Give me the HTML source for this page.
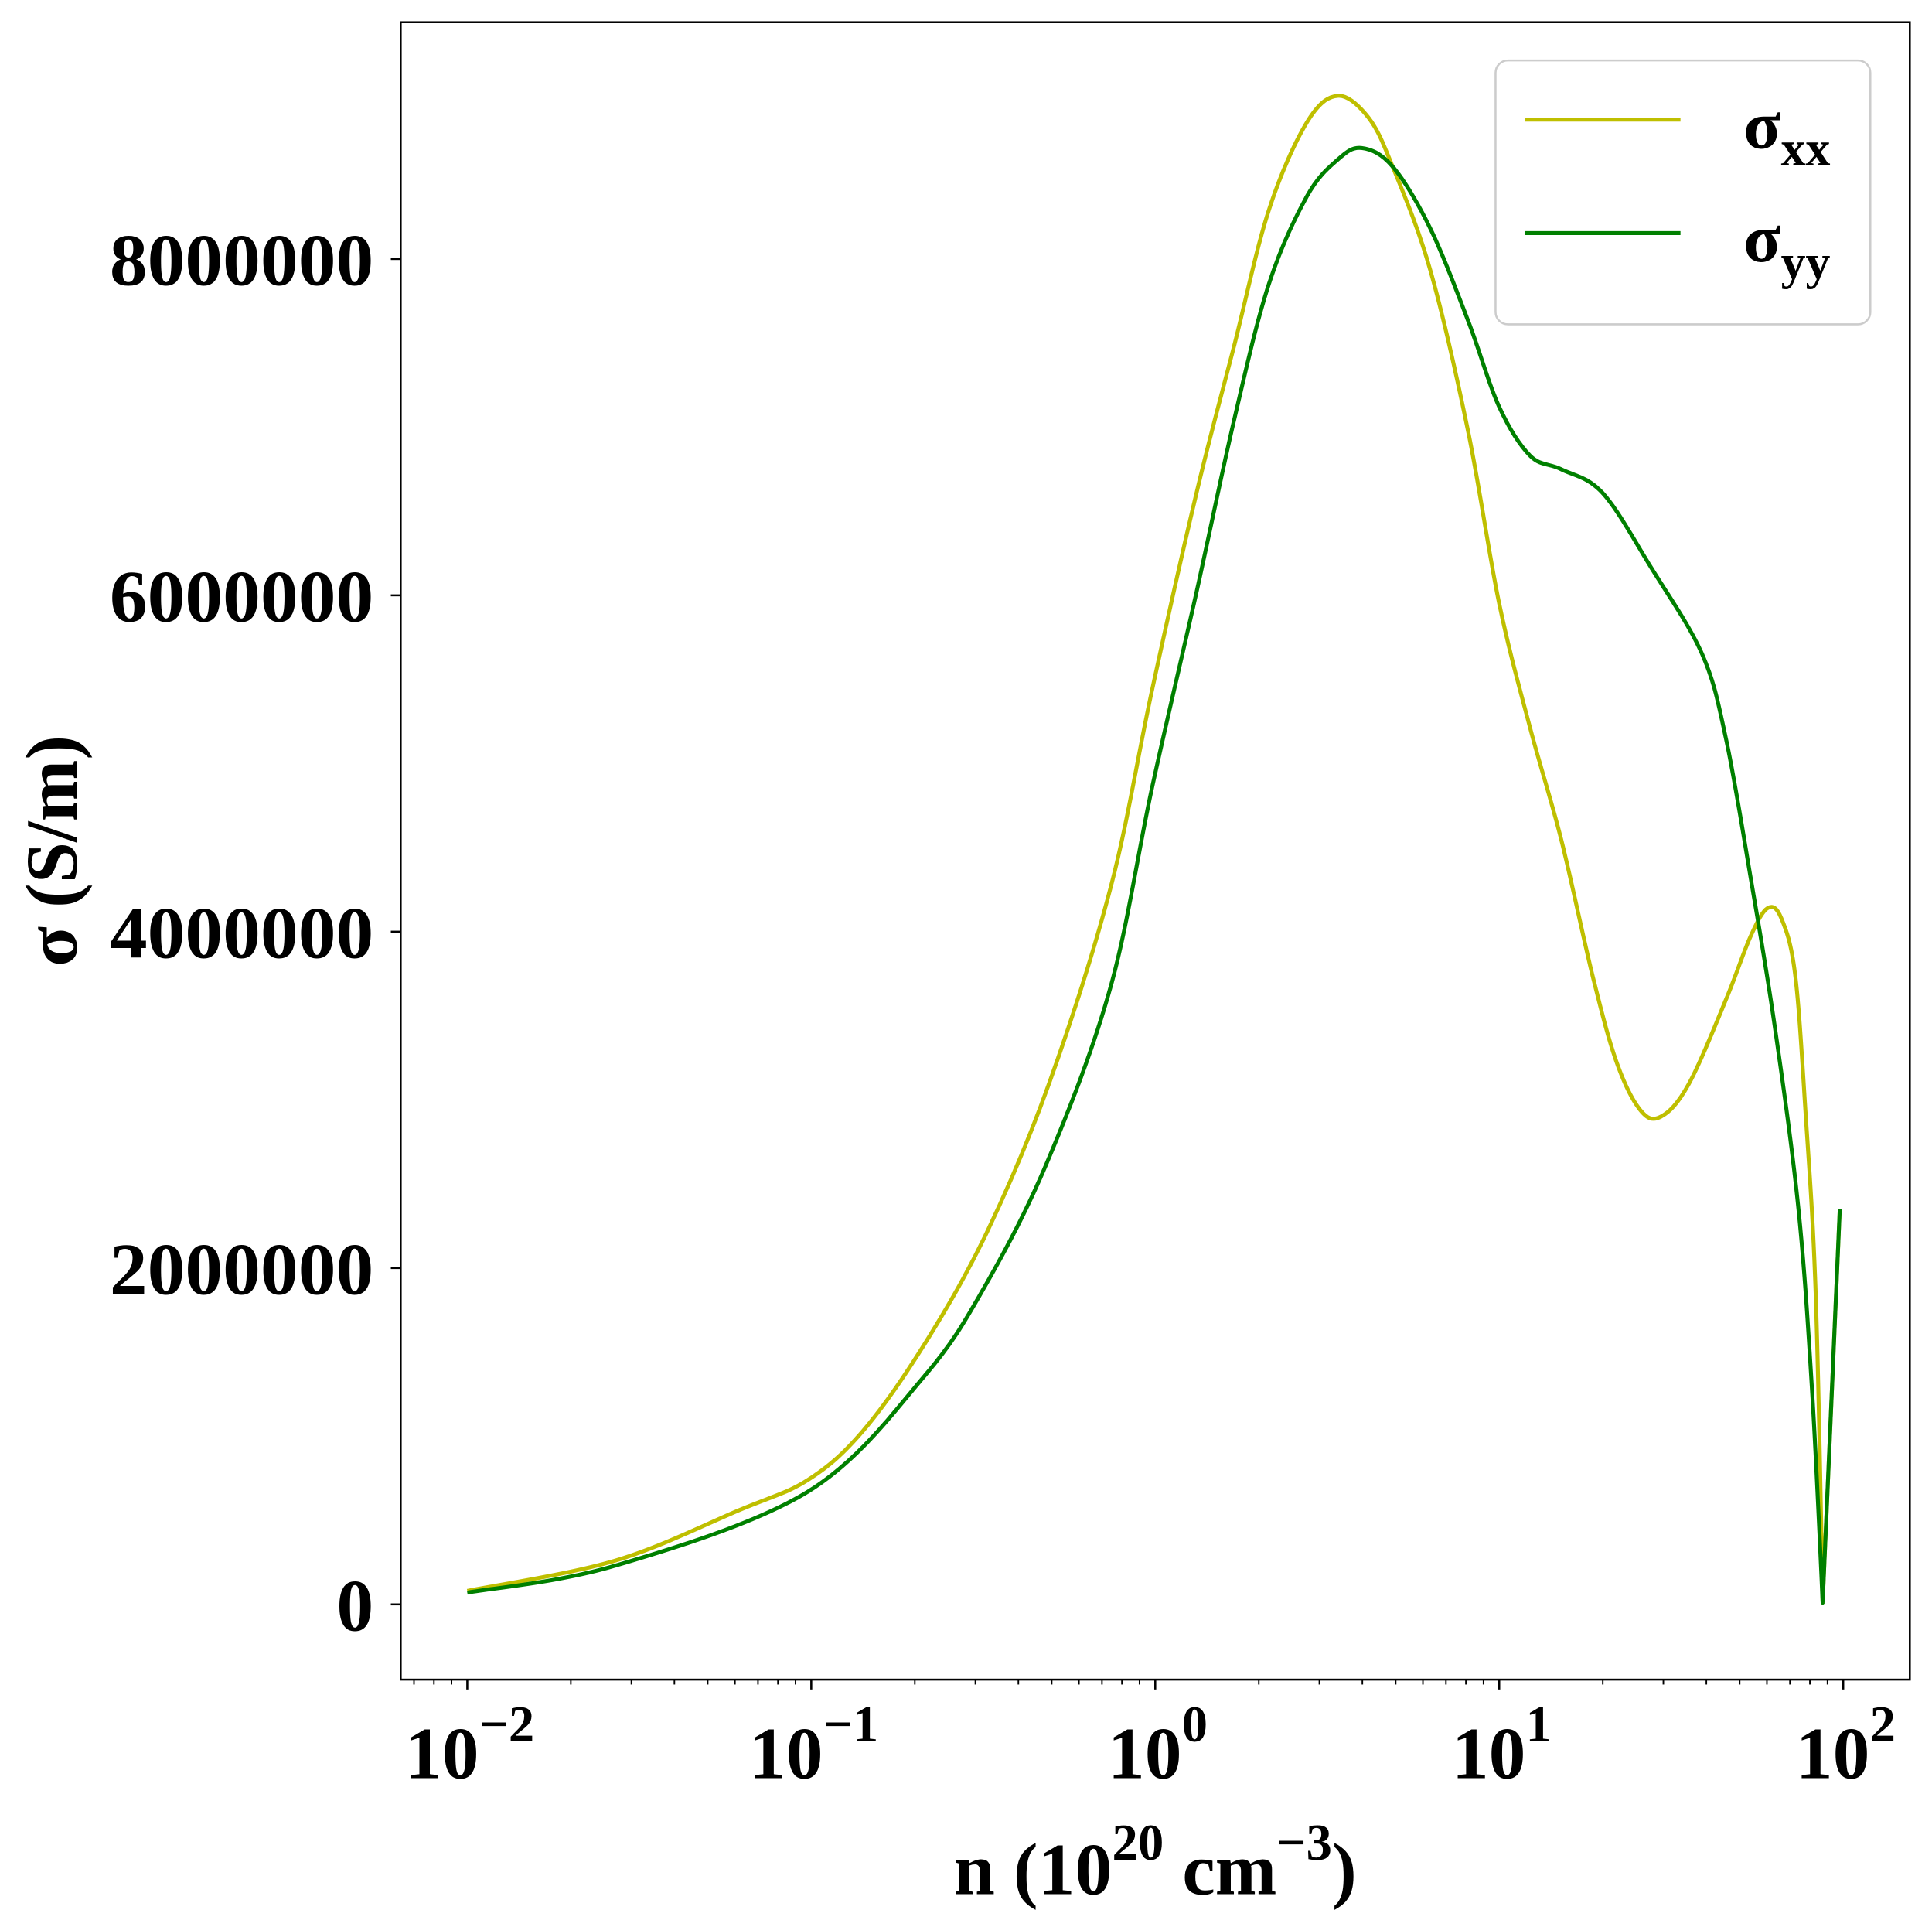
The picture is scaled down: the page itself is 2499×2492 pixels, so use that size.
<!DOCTYPE html>
<html><head><meta charset="utf-8"><style>html,body{margin:0;padding:0;background:#fff}svg{display:block}</style></head>
<body>
<svg id="chart" width="2499" height="2492" viewBox="0 0 1567 1562.6" xmlns="http://www.w3.org/2000/svg" font-family="'Liberation Serif', serif" font-weight="bold">
<rect width="1567" height="1563" fill="#fff"/>
<g id="plot"></g>
<rect x="325" y="18" width="1224" height="1344" fill="none" stroke="#000" stroke-width="1.6"/>
<g id="xt"></g><g id="yt"></g>
<text x="937" y="1536" font-size="60" text-anchor="middle">n (10<tspan dy="-28" font-size="42">20</tspan><tspan dy="28"> cm</tspan><tspan dy="-28" font-size="42">−3</tspan><tspan dy="28">)</tspan></text>
<text transform="translate(62,690) rotate(-90)" font-size="60" text-anchor="middle">σ (S/m)</text>
<g>
<rect x="1213" y="49" width="304" height="214" rx="10" fill="#fff" fill-opacity="0.8" stroke="#ccc" stroke-width="1.6"/>
<line x1="1237" y1="97" x2="1363" y2="97" stroke="#bfbf00" stroke-width="3.2"/>
<text x="1414" y="120" font-size="56">σ<tspan dy="14" font-size="40">xx</tspan></text>
<line x1="1237" y1="189" x2="1363" y2="189" stroke="#008000" stroke-width="3.2"/>
<text x="1414" y="212" font-size="56">σ<tspan dy="14" font-size="40">yy</tspan></text>
</g>
</svg>
<script>
const logNxx=[-2.00,-1.57,-1.21,-1.01,-0.85,-0.67,-0.49,-0.31,-0.13,-0.01,0.12,0.23,0.33,0.44,0.53,0.62,0.69,0.80,0.91,1.00,1.09,1.18,1.27,1.34,1.41,1.47,1.55,1.66,1.73,1.78,1.82,1.86,1.89,1.92,1.94,1.99];
const sigmaXX=[0.08,0.26,0.56,0.74,1.03,1.55,2.21,3.09,4.26,5.43,6.61,7.49,8.29,8.81,8.97,8.84,8.55,7.93,6.97,5.95,5.21,4.55,3.75,3.23,2.94,2.90,3.09,3.60,3.97,4.14,4.08,3.75,2.94,1.84,0.01,2.35];
const logNyy=[-2.00,-1.57,-1.01,-0.67,-0.49,-0.31,-0.13,-0.01,0.12,0.23,0.33,0.44,0.53,0.60,0.69,0.80,0.91,1.00,1.09,1.18,1.30,1.44,1.59,1.66,1.73,1.80,1.87,1.91,1.94,1.99];
const sigmaYY=[0.07,0.23,0.67,1.36,1.91,2.65,3.67,4.85,6.02,7.05,7.85,8.37,8.59,8.66,8.55,8.18,7.63,7.12,6.83,6.75,6.61,6.17,5.65,5.14,4.33,3.45,2.35,1.25,0.01,2.35];
const yTicks=[0,2000000,4000000,6000000,8000000];
const yTickLabels=["0","2000000","4000000","6000000","8000000"];
const xDecades=[-2,-1,0,1,2];
const NS="http://www.w3.org/2000/svg";
function xs(l){return 379+(l+2)*279;}
function ys(v){return 1301-v/2000000*272.75;}
function mk(t,a,p){const e=document.createElementNS(NS,t);for(const k in a)e.setAttribute(k,a[k]);p.appendChild(e);return e;}
const plot=document.getElementById('plot');
function line(lx,sy,col,name){
  const P=lx.map((l,i)=>[xs(l),ys(sy[i]*1e6)]);
  const n=P.length;
  let d='M'+P[0][0].toFixed(1)+','+P[0][1].toFixed(1);
  for(let i=0;i<n-1;i++){
    const p0=P[i-1]||P[i],p1=P[i],p2=P[i+1],p3=P[i+2]||P[i+1];
    const sharp1=sy[i]<0.05, sharp2=sy[i+1]<0.05;
    const t=1/6;
    const c1=sharp1?p1:[p1[0]+(p2[0]-p0[0])*t,p1[1]+(p2[1]-p0[1])*t];
    const c2=sharp2?p2:[p2[0]-(p3[0]-p1[0])*t,p2[1]-(p3[1]-p1[1])*t];
    d+='C'+c1[0].toFixed(1)+','+c1[1].toFixed(1)+' '+c2[0].toFixed(1)+','+c2[1].toFixed(1)+' '+p2[0].toFixed(1)+','+p2[1].toFixed(1);
  }
  const p=mk('path',{d:d,fill:'none',stroke:col,'stroke-width':3.2,'stroke-linejoin':'round'},plot);
  
  
}
line(logNxx,sigmaXX,'#bfbf00','sigma-xx-line');
line(logNyy,sigmaYY,'#008000','sigma-yy-line');
const yt=document.getElementById('yt');
yTicks.forEach((v,i)=>{
  mk('line',{x1:317,x2:325,y1:ys(v),y2:ys(v),stroke:'#000','stroke-width':1.6},yt);
  const t=mk('text',{x:303,y:ys(v)+21,'font-size':60,'text-anchor':'end'},yt);
  t.textContent=yTickLabels[i];
  if(yTickLabels[i].length>1){t.setAttribute('textLength',214);t.setAttribute('lengthAdjust','spacingAndGlyphs');}
  
  
});
const xt=document.getElementById('xt');
for(let d=-3;d<=2;d++){for(let m=2;m<=9;m++){const l=d+Math.log10(m);const x=xs(l);if(x<326||x>1548)continue;mk('line',{x1:x,x2:x,y1:1362,y2:1366,stroke:'#000','stroke-width':1.2},xt);}}
xDecades.forEach(d=>{
  const x=xs(d);
  mk('line',{x1:x,x2:x,y1:1362,y2:1370,stroke:'#000','stroke-width':1.6},xt);
  const t=mk('text',{x:x+2,y:1442,'font-size':60,'text-anchor':'middle'},xt);
  
  
  t.innerHTML='10<tspan dy="-30" font-size="42">'+(d<0?'−'+(-d):d)+'</tspan>';
});
</script>
</body></html>
